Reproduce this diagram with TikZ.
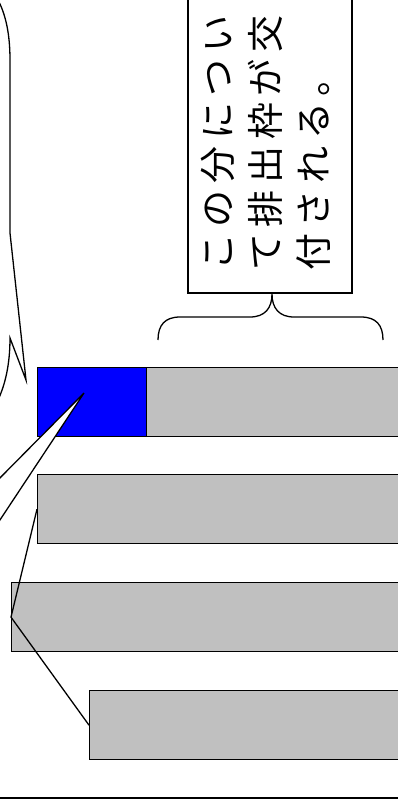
\documentclass[tikz,border=0pt]{standalone}
\usepackage{fontspec}
\newfontfamily\jp[LetterSpace=18]{Noto Sans CJK JP}
\begin{document}
\begin{tikzpicture}[x=1pt,y=-1pt,line join=miter,
  bar/.style={draw=black,line width=1.3pt,fill=barGray,rectangle,inner sep=0pt,anchor=north west,minimum height=69pt},
  outl/.style={draw=black,line width=1.3pt}]
\definecolor{barGray}{HTML}{C0C0C0}
\definecolor{barBlue}{HTML}{0000FF}
\useasboundingbox (0,0) rectangle (398,804);
\clip (0,0) rectangle (398,804);
% bars
\node[bar,minimum width=300pt] (bar1gray) at (146,367) {};
\node[bar,fill=barBlue,minimum width=109pt] (bar1blue) at (37,367) {};
\node[bar,minimum width=400pt] (bar2) at (37,474) {};
\node[bar,minimum width=420pt] (bar3) at (11,582) {};
\node[bar,minimum width=340pt] (bar4) at (89,690) {};
\draw[outl] (bar2.west) -- (bar3.west) -- (bar4.west);
% callout tail
\coordinate (tip) at (84,393);
\path[fill=white] (-10,488) -- (tip) -- (-10,535) -- cycle;
\draw[outl] (-10,488) -- (tip) -- (-10,535);
% left callout outline
\draw[outl] (-2,0) .. controls (6,15) and (10,35) .. (10,60) -- (10,233) -- (26,380) -- (10,338)
  .. controls (10,365) and (5,385) .. (-2,400);
% text box
\draw[outl] (188,-10) -- (188,293) -- (352,293) -- (352,-10);
\node[rotate=90,anchor=north west,align=left,inner sep=0pt,
  font=\jp\fontsize{37pt}{48pt}\selectfont] (txt) at (201,271)
  {この分につい\\て排出枠が交\\付される。};
% brace
\draw[outl] (158,340) .. controls (158,325) and (165,317) .. (180,317) -- (250,317)
  .. controls (265,317) and (272,308) .. (272,294)
  .. controls (272,308) and (279,317) .. (294,317) -- (361,317)
  .. controls (376,317) and (383,325) .. (383,340);
% bottom rule
\draw[black,line width=2.6pt] (-5,798) -- (405,798);
\end{tikzpicture}
\end{document}
